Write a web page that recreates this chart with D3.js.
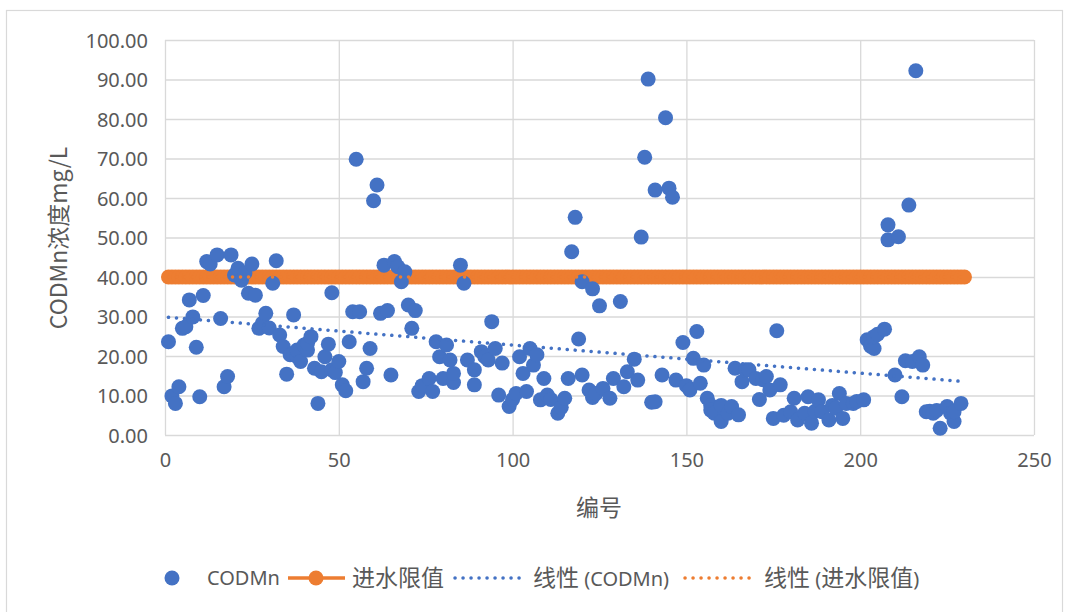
<!DOCTYPE html>
<html><head><meta charset="utf-8">
<script src="https://cdn.jsdelivr.net/npm/d3@7/dist/d3.min.js"></script>
<style>body{margin:0;background:#fff}</style>
</head><body>
<svg id="chart" width="1065" height="612"></svg>
<script>
// 编号 (sample number) and CODMn concentration (mg/L)
const ids = [1,2,3,4,5,6,7,8,9,10,11,12,13,15,16,17,18,19,20,21,22,23,24,25,26,27,28,29,30,31,32,33,34,35,36,37,37,38,38,39,40,41,41,42,43,44,45,46,47,48,48,49,50,51,52,53,54,55,56,57,58,59,60,61,62,63,64,65,66,67,68,69,70,71,72,73,74,76,77,78,79,80,81,82,83,83,85,86,87,89,89,91,92,93,94,95,96,97,99,100,101,102,103,104,105,106,107,108,109,110,111,113,114,115,116,117,118,119,120,120,122,123,123,124,125,126,128,129,131,132,133,135,136,137,138,139,140,141,141,143,144,145,146,147,149,150,151,152,153,154,155,156,157,157,158,160,160,162,163,164,165,166,167,168,170,171,172,173,174,175,176,177,178,180,181,182,184,185,186,187,188,189,191,192,193,194,195,196,198,199,201,202,203,204,204,205,207,208,208,210,211,212,213,214,215,216,217,218,219,220,221,222,223,225,226,227,227,229];
const codmn = [23.6,9.9,8.0,12.2,27.0,27.4,34.2,29.9,22.2,9.7,35.3,43.9,43.3,45.6,29.5,12.2,14.8,45.6,40.5,42.2,39.2,41.0,35.9,43.3,35.4,27.0,28.3,30.8,27.1,38.4,44.1,25.3,22.4,15.4,20.3,30.4,20.7,19.8,21.5,18.6,22.8,21.5,23.2,24.9,16.9,8.0,16.0,19.8,23.0,36.0,16.5,15.8,18.6,12.7,11.2,23.6,31.2,69.8,31.2,13.5,16.9,21.9,59.3,63.3,30.8,43.0,31.5,15.2,43.9,42.6,38.8,41.3,32.9,27.0,31.5,11.0,12.5,14.3,11.0,23.6,19.8,14.3,22.8,19.0,13.3,15.6,43.0,38.4,19.0,16.5,12.7,21.1,19.8,19.0,28.7,21.9,10.1,18.2,7.2,9.0,10.5,19.8,15.6,11.0,21.9,17.7,20.3,8.9,14.3,10.1,9.0,5.5,7.0,9.3,14.3,46.4,55.1,24.3,15.2,38.8,11.4,9.5,37.0,10.5,32.7,11.8,9.3,14.3,33.8,12.2,16.0,19.2,13.9,50.1,70.3,90.1,8.3,8.4,62.0,15.2,80.3,62.5,60.2,13.9,23.4,12.5,11.4,19.4,26.2,13.1,17.7,9.3,7.5,6.3,5.5,3.4,7.5,5.5,7.2,16.9,5.1,13.5,16.5,16.5,14.3,9.0,14.0,14.8,11.4,4.2,26.4,12.7,5.0,5.9,9.3,3.8,5.5,9.7,3.0,6.0,8.9,5.9,3.8,7.5,6.8,10.5,4.2,8.0,8.0,8.5,8.9,24.1,22.5,21.9,24.9,25.5,26.8,53.2,49.4,15.2,50.2,9.7,18.8,58.2,18.6,92.2,19.8,17.7,5.9,6.0,5.5,6.2,1.7,7.2,5.5,3.4,5.9,8.0];

// 进水限值 (intake limit) series: constant 40 over sample numbers 1..230
const limitFirst = 1, limitLast = 230, limitValue = 40;
const limitIds = d3.range(limitFirst, limitLast + 1);

// Linear trend lines
const trendCODIds = [1, 229];
const trendCODVals = [29.8, 13.6];
const trendLimitIds = [1, 230];
const trendLimitVals = [40, 40];

const xTicks = [0, 50, 100, 150, 200, 250];
const yTicks = [0, 10, 20, 30, 40, 50, 60, 70, 80, 90, 100];

const xTitle = "编号";
const yTitle = "CODMn浓度mg/L";

const BLUE = "#4472C4", ORANGE = "#ED7D31", GRID = "#D9D9D9", TXT = "#595959";
const LATIN = "'Noto Sans', 'Open Sans', sans-serif";
const CJK = "'Noto Sans CJK SC', 'Noto Sans', sans-serif";

const svg = d3.select("#chart");
svg.append("rect").attr("x", 6.5).attr("y", 10.5).attr("width", 1056).attr("height", 612)
  .attr("fill", "#fff").attr("stroke", GRID).attr("stroke-width", 1.2);

const L = 165, R = 1034, T = 40, B = 435;
const x = d3.scaleLinear().domain([0, 250]).range([L, R]);
const y = d3.scaleLinear().domain([0, 100]).range([B, T]);

// Gridlines + tick labels via axes
const gy = svg.append("g").attr("transform", `translate(${L},0)`)
  .call(d3.axisLeft(y).tickValues(yTicks).tickFormat(d3.format(".2f")).tickSize(-(R - L)).tickPadding(17));
gy.select(".domain").remove();
gy.selectAll(".tick line").attr("stroke", GRID).attr("stroke-width", 1.3);
gy.selectAll(".tick text").attr("fill", TXT).style("font-family", LATIN).style("font-size", "20px").attr("dy", "0.36em");

const gx = svg.append("g").attr("transform", `translate(0,${B})`)
  .call(d3.axisBottom(x).tickValues(xTicks).tickFormat(d3.format("d")).tickSize(-(B - T)).tickPadding(18));
gx.select(".domain").remove();
gx.selectAll(".tick line").attr("stroke", GRID).attr("stroke-width", 1.3);
gx.selectAll(".tick text").attr("fill", TXT).style("font-family", LATIN).style("font-size", "20px").attr("dy", "0.71em");

// Axis titles
svg.append("text").attr("x", 599).attr("y", 516).attr("text-anchor", "middle")
  .attr("fill", TXT).style("font-family", CJK).style("font-size", "23px").text(xTitle);
svg.append("text").attr("transform", "translate(67,238) rotate(-90)").attr("text-anchor", "middle")
  .attr("fill", TXT).style("font-family", CJK).style("font-size", "23px").text(yTitle);

// 进水限值 line with markers
const lineGen = d3.line().x(d => x(d[0])).y(d => y(d[1]));
svg.append("path").datum(limitIds.map(i => [i, limitValue])).attr("d", lineGen)
  .attr("fill", "none").attr("stroke", ORANGE).attr("stroke-width", 3.5);
svg.append("g").selectAll("circle").data(limitIds).join("circle")
  .attr("cx", d => x(d)).attr("cy", y(limitValue)).attr("r", 7.5).attr("fill", ORANGE);

// CODMn points
svg.append("g").selectAll("circle").data(ids.map((id, i) => [id, codmn[i]])).join("circle")
  .attr("cx", d => x(d[0])).attr("cy", d => y(d[1])).attr("r", 7.5).attr("fill", BLUE);

// Trend lines (round dots)
svg.append("path").datum(trendCODIds.map((id, i) => [id, trendCODVals[i]])).attr("d", lineGen)
  .attr("fill", "none").attr("stroke", BLUE).attr("stroke-width", 3.5)
  .attr("stroke-linecap", "round").attr("stroke-dasharray", "0.1 7.9");
svg.append("path").datum(trendLimitIds.map((id, i) => [id, trendLimitVals[i]])).attr("d", lineGen)
  .attr("fill", "none").attr("stroke", ORANGE).attr("stroke-width", 3.5)
  .attr("stroke-linecap", "round").attr("stroke-dasharray", "0.1 7.9");

// Legend
const LY = 578;
const lg = svg.append("g");
lg.append("circle").attr("cx", 172).attr("cy", LY).attr("r", 7.5).attr("fill", BLUE);
lg.append("text").attr("x", 207).attr("y", LY + 7).attr("fill", TXT)
  .style("font-family", LATIN).style("font-size", "20px").text("CODMn");
lg.append("line").attr("x1", 288).attr("x2", 345).attr("y1", LY).attr("y2", LY)
  .attr("stroke", ORANGE).attr("stroke-width", 3.5);
lg.append("circle").attr("cx", 316).attr("cy", LY).attr("r", 7.5).attr("fill", ORANGE);
lg.append("text").attr("x", 352).attr("y", LY + 8).attr("fill", TXT)
  .style("font-family", CJK).style("font-size", "23px").text("进水限值");
lg.append("line").attr("x1", 455).attr("x2", 521).attr("y1", LY).attr("y2", LY)
  .attr("stroke", BLUE).attr("stroke-width", 3.5).attr("stroke-linecap", "round").attr("stroke-dasharray", "0.1 7.9");
const t3 = lg.append("text").attr("x", 533).attr("y", LY + 8).attr("fill", TXT).style("font-family", CJK).style("font-size", "23px");
t3.append("tspan").text("线性 ");
t3.append("tspan").style("font-family", LATIN).style("font-size", "20px").text("(CODMn)");
lg.append("line").attr("x1", 685).attr("x2", 751).attr("y1", LY).attr("y2", LY)
  .attr("stroke", ORANGE).attr("stroke-width", 3.5).attr("stroke-linecap", "round").attr("stroke-dasharray", "0.1 7.9");
const t4 = lg.append("text").attr("x", 764).attr("y", LY + 8).attr("fill", TXT).style("font-family", CJK).style("font-size", "23px");
t4.append("tspan").text("线性 ");
t4.append("tspan").style("font-family", LATIN).style("font-size", "20px").text("(");
t4.append("tspan").text("进水限值");
t4.append("tspan").style("font-family", LATIN).style("font-size", "20px").text(")");
</script>
</body></html>
